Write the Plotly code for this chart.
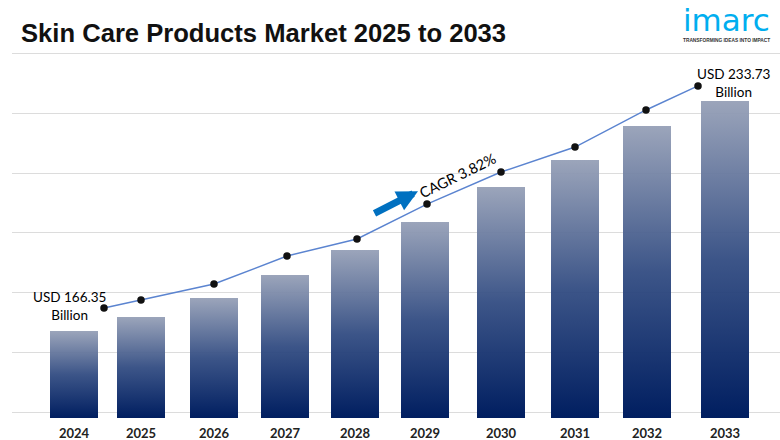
import plotly.graph_objects as go

years = ["2024","2025","2026","2027","2028","2029","2030","2031","2032","2033"]
bar_values = [166.35,170.45,176.02,182.76,190.08,198.29,208.54,216.45,226.42,233.73]
line_values = [166.35,168.78,173.63,182.13,187.29,197.91,207.62,215.21,226.44,233.73]
# horizontal places on a free numeric axis (the source spaces its columns unevenly)
bar_x = [74,141,214,285,355,425,501,575,647,725]
line_x = [104,141,214,287,357,427,501,575,646,698]
BAR_W = 48
BASE = 140.86

fig = go.Figure()
for x, v, yr in zip(bar_x, bar_values, years):
    h = BAR_W / 2
    fig.add_trace(go.Scatter(
        x=[x-h, x+h, x+h, x-h, x-h], y=[BASE, BASE, v, v, BASE],
        mode="lines", line=dict(width=0), fill="toself", name=yr, showlegend=False,
        fillgradient=dict(type="vertical",
            colorscale=[[0,"rgba(0,30,96,1)"],[0.5,"rgba(50,76,130,0.95)"],[1,"rgba(150,160,183,0.95)"]]),
    ))
fig.add_trace(go.Scatter(
    x=line_x, y=line_values, yaxis="y2", mode="lines+markers",
    line=dict(color="#5B84D0", width=1.4),
    marker=dict(color="#111111", size=7.5), showlegend=False,
))

sans = "Lato, 'Open Sans', sans-serif"
annotations = [
    dict(text="USD 166.35<br>Billion", x=69, y=167, xref="x", yref="y2", showarrow=False,
         font=dict(family=sans, size=13.5, color="#000")),
    dict(text="USD 233.73<br>Billion", x=733, y=234.55, xref="x", yref="y2", showarrow=False,
         font=dict(family=sans, size=13.5, color="#000")),
    dict(text="CAGR 3.82%", x=457.5, y=212, xref="x", yref="y", showarrow=False, textangle=-26,
         font=dict(family=sans, size=14.5, color="#000")),
    dict(text="", x=418, y=207.3, ax=-45, ay=23, axref="pixel", ayref="pixel",
         xref="x", yref="y", showarrow=True, arrowhead=2, arrowsize=0.6, arrowwidth=7,
         arrowcolor="#0070C0", standoff=0),
    dict(text="Skin Care Products Market 2025 to 2033", xref="paper", yref="paper", x=0.0, y=1, xshift=7,
         yshift=17, xanchor="left", yanchor="middle", showarrow=False,
         font=dict(family="'Liberation Sans', Arial", size=25.6, color="#111", weight="bold")),
    dict(text="imarc", xref="paper", yref="paper", x=1, y=1, xshift=-8, yshift=30, xanchor="right", yanchor="middle",
         showarrow=False, font=dict(family="'DejaVu Sans'", size=31, color="#00AEEF")),
    dict(text="TRANSFORMING IDEAS INTO IMPACT", xref="paper", yref="paper", x=1, y=1, xshift=-8, yshift=10,
         xanchor="right", yanchor="middle", showarrow=False,
         font=dict(family="'Liberation Sans'", size=4.8, color="#333", weight="bold")),
]

fig.update_layout(
    width=780, height=440, margin=dict(l=12, r=0, t=50, b=21),
    paper_bgcolor="white", plot_bgcolor="white", showlegend=False,
    xaxis=dict(range=[12,780], tickmode="array", tickvals=bar_x, ticktext=years, showgrid=False,
               zeroline=False, ticks="", showline=False, ticklabelstandoff=5,
               tickfont=dict(family=sans, size=13, color="#222", weight="bold")),
    yaxis=dict(range=[140.57,248.68], tick0=142.6, dtick=17.49, tickmode="linear", showticklabels=False,
               gridcolor="#DCDCDC", gridwidth=1.2, zeroline=False, showline=False),
    yaxis2=dict(range=[132.66,244.65], overlaying="y", side="right", visible=False, showgrid=False),
    annotations=annotations,
)
fig.write_html("out.html", config=dict(displayModeBar=False),
               post_script="document.body.style.margin='0';")
